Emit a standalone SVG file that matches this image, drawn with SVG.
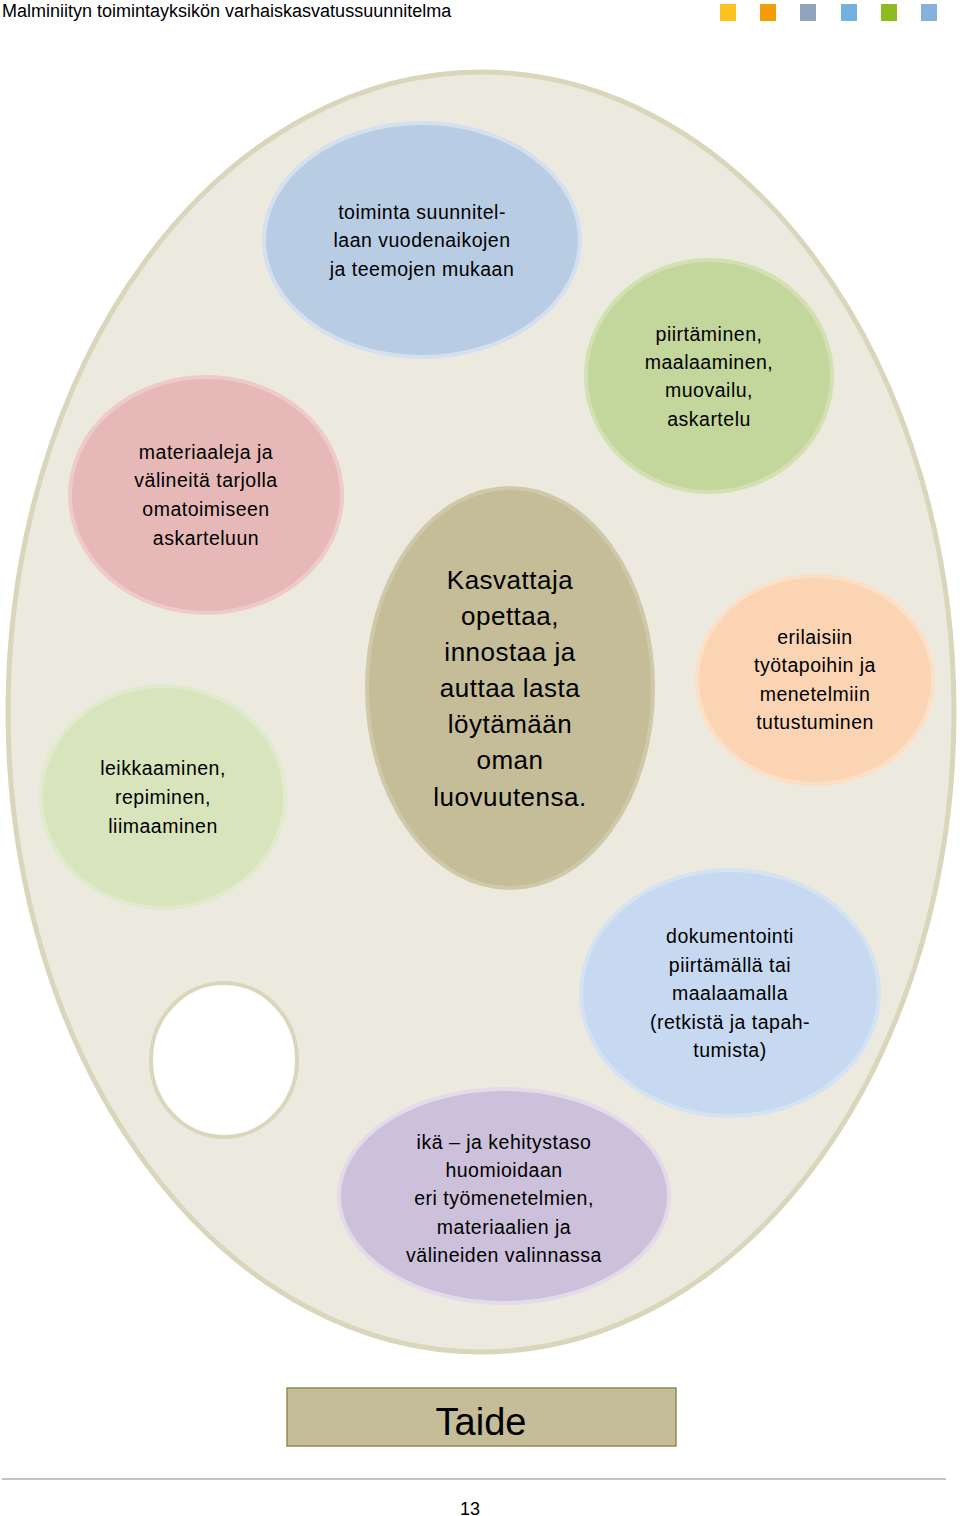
<svg xmlns="http://www.w3.org/2000/svg" width="960" height="1516" viewBox="0 0 960 1516">
<style>
text{font-family:"Liberation Sans",Arial,sans-serif;fill:#000;text-anchor:middle}
.s{font-size:19.5px;letter-spacing:0.5px}
.b{font-size:26px;letter-spacing:0.5px}
.n{stroke-width:4}
</style>
<rect width="960" height="1516" fill="#fff"/>
<text x="2" y="17" style="font-size:18px;text-anchor:start">Malminiityn toimintayksikön varhaiskasvatussuunnitelma</text>
<g id="squares">
<rect x="720" y="4" width="16" height="17" fill="#fcc21f"/>
<rect x="760" y="4" width="16" height="17" fill="#f29d0b"/>
<rect x="800" y="4" width="16" height="17" fill="#8fa3bd"/>
<rect x="841" y="4" width="16" height="17" fill="#73b2e0"/>
<rect x="881" y="4" width="16" height="17" fill="#8cbb22"/>
<rect x="921" y="4" width="16" height="17" fill="#88b0dc"/>
</g>
<g id="palette"><ellipse cx="481" cy="712" rx="473" ry="640" fill="#eceade" stroke="#d9d6bc" stroke-width="5"/></g>
<g id="connectors"></g>
<g id="n1"><ellipse class="n" cx="422" cy="240" rx="158" ry="117" fill="#b8cce4" stroke="#d4e0ef"/>
<text class="s"><tspan x="422" y="219">toiminta suunnitel-</tspan><tspan x="422" y="247">laan vuodenaikojen</tspan><tspan x="422" y="276">ja teemojen mukaan</tspan></text></g>
<g id="n2"><ellipse class="n" cx="709" cy="376" rx="123" ry="116" fill="#c3d69b" stroke="#d2e0b2"/>
<text class="s"><tspan x="709" y="341">piirtäminen,</tspan><tspan x="709" y="369">maalaaminen,</tspan><tspan x="709" y="397">muovailu,</tspan><tspan x="709" y="426">askartelu</tspan></text></g>
<g id="n3"><ellipse class="n" cx="206" cy="495" rx="136" ry="118" fill="#e6b9b8" stroke="#eecac9"/>
<text class="s"><tspan x="206" y="459">materiaaleja ja</tspan><tspan x="206" y="487">välineitä tarjolla</tspan><tspan x="206" y="516">omatoimiseen</tspan><tspan x="206" y="545">askarteluun</tspan></text></g>
<g id="n4"><ellipse class="n" cx="510" cy="688" rx="143" ry="200" fill="#c4bd97" stroke="#cfc9a9"/>
<text class="b"><tspan x="510" y="589">Kasvattaja</tspan><tspan x="510" y="625">opettaa,</tspan><tspan x="510" y="661">innostaa ja</tspan><tspan x="510" y="697">auttaa lasta</tspan><tspan x="510" y="733">löytämään</tspan><tspan x="510" y="769">oman</tspan><tspan x="510" y="806">luovuutensa.</tspan></text></g>
<g id="n5"><ellipse class="n" cx="815" cy="680" rx="118" ry="104" fill="#fbd4b4" stroke="#fcdfc6"/>
<text class="s"><tspan x="815" y="644">erilaisiin</tspan><tspan x="815" y="672">työtapoihin ja</tspan><tspan x="815" y="701">menetelmiin</tspan><tspan x="815" y="729">tutustuminen</tspan></text></g>
<g id="n6"><ellipse class="n" cx="163" cy="797" rx="122" ry="111" fill="#d7e4bc" stroke="#e0eacc"/>
<text class="s"><tspan x="163" y="775">leikkaaminen,</tspan><tspan x="163" y="804">repiminen,</tspan><tspan x="163" y="833">liimaaminen</tspan></text></g>
<g id="n7"><ellipse class="n" cx="730" cy="993" rx="149" ry="123" fill="#c6d9f0" stroke="#d4e2f3"/>
<text class="s"><tspan x="730" y="943">dokumentointi</tspan><tspan x="730" y="972">piirtämällä tai</tspan><tspan x="730" y="1000">maalaamalla</tspan><tspan x="730" y="1029">(retkistä ja tapah-</tspan><tspan x="730" y="1057">tumista)</tspan></text></g>
<g id="hole"><ellipse cx="224" cy="1060" rx="73" ry="77" fill="#fff" stroke="#d9d6bc" stroke-width="4"/></g>
<g id="n8"><ellipse class="n" cx="504" cy="1196" rx="165" ry="107" fill="#ccc0da" stroke="#e2dbea"/>
<text class="s"><tspan x="504" y="1149">ikä – ja  kehitystaso</tspan><tspan x="504" y="1177">huomioidaan</tspan><tspan x="504" y="1205">eri työmenetelmien,</tspan><tspan x="504" y="1234">materiaalien ja</tspan><tspan x="504" y="1262">välineiden valinnassa</tspan></text></g>
<g id="title"><rect x="287" y="1388" width="389" height="58" fill="#c4bd97" stroke="#948a54" stroke-width="1.5"/>
<text x="481" y="1435" style="font-size:38px">Taide</text></g>
<line x1="2" y1="1479" x2="946" y2="1479" stroke="#888" stroke-width="1"/>
<text x="470" y="1515" style="font-size:18px">13</text>
</svg>
